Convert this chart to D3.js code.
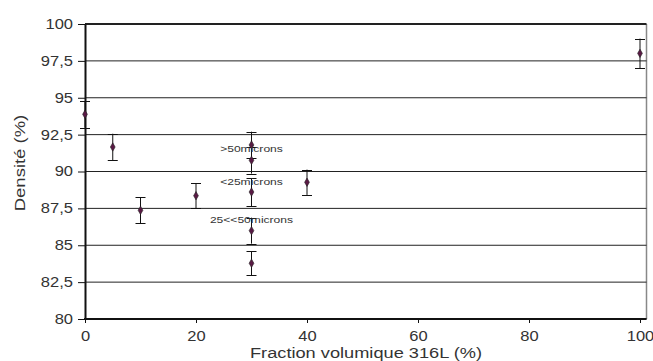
<!DOCTYPE html>
<html><head><meta charset="utf-8">
<script src="https://cdn.jsdelivr.net/npm/d3@7"></script>
<style>body{margin:0;background:#fff}svg{display:block}text{font-family:"Liberation Sans",Arial,sans-serif}</style>
</head><body>
<svg id="c" width="653" height="361"></svg>
<script>
const fractions = [0, 5, 10, 20, 30, 30, 30, 30, 30, 40, 100];
const densities = [93.88, 91.66, 87.37, 88.36, 91.8, 90.76, 88.61, 85.99, 83.78, 89.27, 98.01];
const errors = [0.9, 0.9, 0.88, 0.85, 0.9, 0.9, 0.95, 0.88, 0.82, 0.86, 1.0];
const yTicks = [80, 82.5, 85, 87.5, 90, 92.5, 95, 97.5, 100];
const xTicks = [0, 20, 40, 60, 80, 100];
const annotations = [">50microns", "<25microns", "25<<50microns"];
const annotationX = [30, 30, 30];
const annotationY = [91.34, 89.07, 86.52];

const svg = d3.select("#c");
const x = d3.scaleLinear().domain([0, 100]).range([85, 640]);
const y = d3.scaleLinear().domain([80, 100]).range([319, 24]);
const fmt = d => String(d).replace(".", ",");
const font = "Liberation Sans, Arial, sans-serif";

function stretch(sel, factor) {
  sel.each(function() {
    const w = this.getComputedTextLength();
    d3.select(this).attr("textLength", w * factor).attr("lengthAdjust", "spacingAndGlyphs");
  });
}

// plot frame right border
svg.append("line").attr("x1", 646.5).attr("x2", 646.5).attr("y1", 24).attr("y2", 319)
  .attr("stroke", "#888").attr("stroke-width", 1.5);

// gridlines
svg.append("g").selectAll("line").data(yTicks).join("line")
  .attr("x1", 85).attr("x2", 646.5)
  .attr("y1", d => y(d)).attr("y2", d => y(d))
  .attr("stroke", "#222").attr("stroke-width", d => d === 100 ? 2 : 1);

// y axis
const ya = svg.append("g").attr("transform", "translate(85,0)")
  .call(d3.axisLeft(y).tickValues(yTicks).tickFormat(fmt).tickSize(7).tickSizeOuter(0).tickPadding(5));
ya.select(".domain").attr("stroke", "#111").attr("stroke-width", 2);
ya.selectAll(".tick line").attr("stroke", "#111");
ya.selectAll("text").attr("font-size", 14).attr("fill", "#333").style("font-family", font);
stretch(ya.selectAll("text"), 1.18);

// x axis
const xa = svg.append("g").attr("transform", "translate(0,319)")
  .call(d3.axisBottom(x).tickValues(xTicks).tickSize(4).tickSizeOuter(0).tickPadding(8.5));
xa.select(".domain").attr("stroke", "#111").attr("stroke-width", 2).attr("d", "M84,0H646.5");
xa.selectAll(".tick line").attr("stroke", "#111");
xa.selectAll("text").attr("font-size", 14).attr("fill", "#333").style("font-family", font);
stretch(xa.selectAll("text"), 1.18);

// titles
const xt = svg.append("text").attr("x", 366).attr("y", 357.5).attr("text-anchor", "middle")
  .attr("font-size", 14).attr("fill", "#333").text("Fraction volumique 316L (%)");
stretch(xt, 1.3);
const yt = svg.append("text").attr("transform", "translate(25,163) rotate(-90)").attr("text-anchor", "middle")
  .attr("font-size", 14).attr("fill", "#333").text("Densité (%)");
stretch(yt, 1.32);

const pts = fractions.map((f, i) => ({f, d: densities[i], e: errors[i]}));

// error bars
const eb = svg.append("g").attr("stroke", "#111").attr("stroke-width", 1);
eb.selectAll(".v").data(pts).join("line")
  .attr("x1", p => x(p.f)).attr("x2", p => x(p.f))
  .attr("y1", p => y(p.d + p.e)).attr("y2", p => y(p.d - p.e));
eb.selectAll(".t").data(pts).join("line")
  .attr("x1", p => x(p.f) - 5).attr("x2", p => x(p.f) + 5)
  .attr("y1", p => Math.round(y(p.d + p.e)) + 0.5).attr("y2", p => Math.round(y(p.d + p.e)) + 0.5);
eb.selectAll(".b").data(pts).join("line")
  .attr("x1", p => x(p.f) - 5).attr("x2", p => x(p.f) + 5)
  .attr("y1", p => Math.round(y(p.d - p.e)) + 0.5).attr("y2", p => Math.round(y(p.d - p.e)) + 0.5);

// markers
svg.append("g").selectAll("path").data(pts).join("path")
  .attr("d", d3.symbol(d3.symbolDiamond, 20))
  .attr("transform", p => `translate(${x(p.f)},${y(p.d)})`)
  .attr("fill", "#5a1a45").attr("stroke", "#222").attr("stroke-width", 0.6);

// annotations
const an = svg.append("g").selectAll("text").data(annotations).join("text")
  .attr("x", (d, i) => x(annotationX[i]))
  .attr("y", (d, i) => y(annotationY[i]))
  .attr("text-anchor", "middle").attr("font-size", 9.5).attr("fill", "#333")
  .style("font-family", font)
  .text(d => d);
stretch(an, 1.27);
</script>
</body></html>
